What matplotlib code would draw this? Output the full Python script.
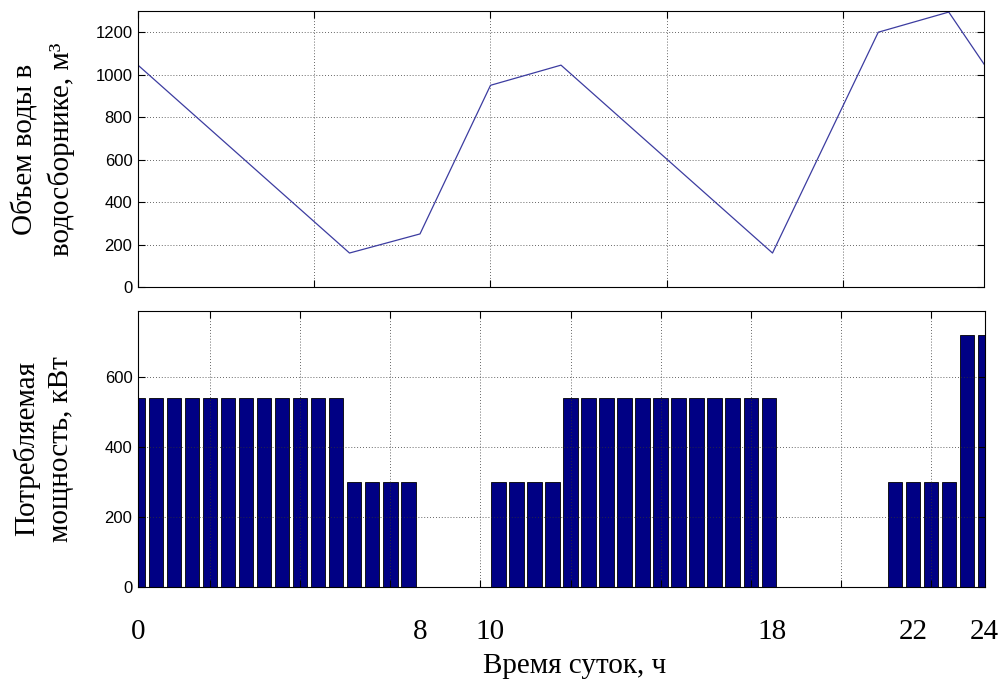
import matplotlib
matplotlib.use("Agg")
import matplotlib.pyplot as plt
import matplotlib.transforms as mtransforms
import numpy as np

# Volume in the reservoir (breakpoints of the piecewise line)
vol_hours = [0, 6, 8, 10, 12, 18, 21, 23, 24]
vol_values = [1045, 160, 250, 950, 1045, 160, 1200, 1295, 1050]

# Consumed power for each half-hour interval (48 bars)
power_values = ([540] * 12 + [300] * 4 + [0] * 4 + [300] * 4 +
                [540] * 12 + [0] * 6 + [300] * 4 + [720] * 2)

hour_labels = [0, 8, 10, 18, 22, 24]

top_ylabel = "Объем воды в\nводосборнике, м³"
bot_ylabel = "Потребляемая\nмощность, кВт"
xlabel = "Время суток, ч"

W, H = 1004, 682
fig = plt.figure(figsize=(W / 100, H / 100), dpi=100)

def box(l, t, r, b):
    return [l / W, 1 - b / H, (r - l) / W, (b - t) / H]

ax1 = fig.add_axes(box(138, 11, 984, 287))
ax2 = fig.add_axes(box(138, 311, 985, 587))

tick_font = {"family": "Liberation Sans", "size": 12}
serif = "Liberation Serif"

for ax in (ax1, ax2):
    ax.grid(True, linestyle=(0, (1, 2.5)), color="#333333", linewidth=0.6)
    ax.tick_params(direction="in", length=5, width=0.8, top=True, right=True,
                   labelbottom=False, pad=4)
    for sp in ax.spines.values():
        sp.set_linewidth(0.8)

# Top: water volume
ax1.plot(vol_hours, vol_values, color="#3c3ca0", linewidth=0.9)
ax1.set_xlim(0, 24)
ax1.set_ylim(0, 1300)
ax1.set_xticks(np.arange(0, 25, 5))
ax1.set_yticks(np.arange(0, 1201, 200))
ax1.set_yticklabels([str(v) for v in range(0, 1201, 200)], fontdict=tick_font)

# Bottom: power bars
idx = np.arange(1, len(power_values) + 1)
ax2.bar(idx, power_values, width=0.8, color="#000084", edgecolor="black",
        linewidth=0.6)
ax2.set_xlim(1, len(power_values))
ax2.set_ylim(0, 790)
ax2.set_xticks(np.arange(5, 46, 5))
ax2.set_yticks([0, 200, 400, 600])
ax2.set_yticklabels(["0", "200", "400", "600"], fontdict=tick_font)

# Hour labels below the bottom axes
trans = mtransforms.blended_transform_factory(ax1.transData, fig.transFigure)
for h in hour_labels:
    ax1.text(h, 1 - 632 / H, str(h), transform=trans, ha="center", va="center",
             family=serif, fontsize=21, clip_on=False)
fig.text(575 / W, 1 - 666 / H, xlabel, ha="center", va="center",
         family=serif, fontsize=21)

fig.text(43 / W, 1 - 149 / H, top_ylabel, rotation=90, ha="center",
         va="center", family=serif, fontsize=21, linespacing=1.4,
         multialignment="center")
fig.text(43 / W, 1 - 449 / H, bot_ylabel, rotation=90, ha="center",
         va="center", family=serif, fontsize=21, linespacing=1.4,
         multialignment="center")

fig.savefig("out.png", dpi=100)
